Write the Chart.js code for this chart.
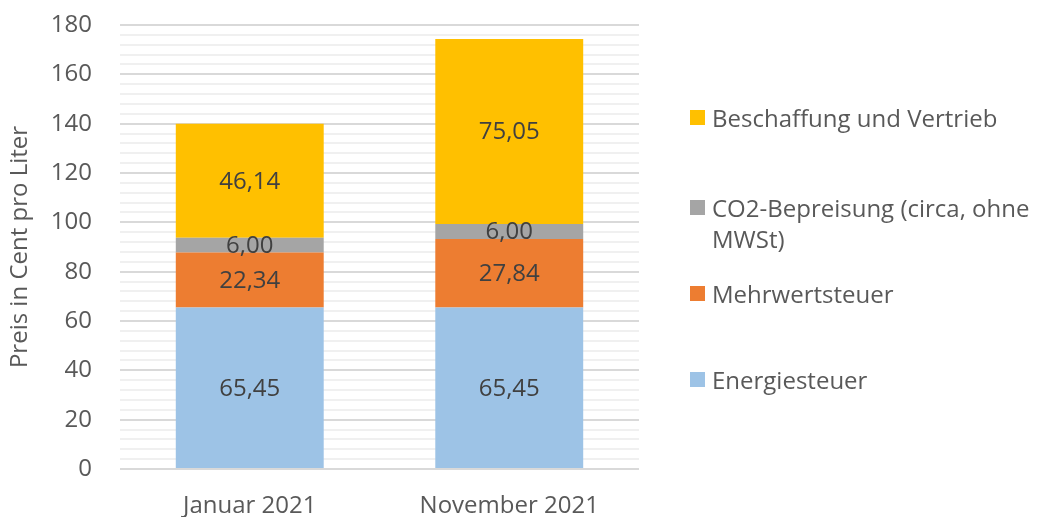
<!DOCTYPE html>
<html>
<head>
<meta charset="utf-8">
<script src="https://cdn.jsdelivr.net/npm/chart.js@4/dist/chart.umd.min.js"></script>
<style>
  html, body { margin: 0; padding: 0; background: #fff; }
  #wrap { position: relative; width: 1040px; height: 517px; font-family: "Open Sans", sans-serif; }
  #chart { position: absolute; left: 0; top: 0; }
  .leg { position: absolute; left: 690px; display: flex; align-items: flex-start; color: #595959; font-size: 24px; line-height: 31px; }
  .leg .sw { width: 15px; height: 15px; margin-top: 8px; margin-right: 7px; flex: none; }
  .leg .tx { width: 325px; }
</style>
</head>
<body>
<div id="wrap">
  <canvas id="chart" width="1040" height="517"></canvas>
  <div id="legend"></div>
</div>
<script>
// ---- data ----
const categories = ['Januar 2021', 'November 2021'];
const seriesNames = ['Energiesteuer', 'Mehrwertsteuer', 'CO2-Bepreisung (circa, ohne MWSt)', 'Beschaffung und Vertrieb'];
const energiesteuer = [65.45, 65.45];
const mehrwertsteuer = [22.34, 27.84];
const co2Bepreisung = [6.00, 6.00];
const beschaffung = [46.14, 75.05];
const yTickLabels = [0, 20, 40, 60, 80, 100, 120, 140, 160, 180];
const yTitle = 'Preis in Cent pro Liter';

// ---- styles ----
const colors = ['#9DC3E6', '#ED7D31', '#A5A5A5', '#FFC000'];
const legendTops = [364, 278, 192, 102]; // per series (bottom to top)
const FONT = '"Open Sans", sans-serif';
const FS = 24;

const seriesValues = [energiesteuer, mehrwertsteuer, co2Bepreisung, beschaffung];

const labelPlugin = {
  id: 'segLabels',
  afterDatasetsDraw(chart) {
    const ctx = chart.ctx;
    ctx.save();
    ctx.font = FS + 'px ' + FONT;
    ctx.fillStyle = '#404040';
    ctx.textAlign = 'center';
    ctx.textBaseline = 'middle';
    chart.data.datasets.forEach((ds, i) => {
      const meta = chart.getDatasetMeta(i);
      meta.data.forEach((bar, j) => {
        const c = bar.getCenterPoint();
        ctx.fillText(ds.data[j].toFixed(2).replace('.', ','), c.x, c.y + 1);
      });
    });
    ctx.restore();
  }
};

new Chart(document.getElementById('chart'), {
  type: 'bar',
  data: {
    labels: categories,
    datasets: seriesNames.map((n, i) => ({
      label: n,
      data: seriesValues[i],
      backgroundColor: colors[i],
      borderWidth: 0,
      categoryPercentage: 1,
      barPercentage: 0.57
    }))
  },
  options: {
    responsive: false,
    animation: false,
    layout: { padding: { left: 0, right: 401, top: 25, bottom: 0 } },
    plugins: { legend: { display: false }, tooltip: { enabled: false } },
    scales: {
      x: {
        stacked: true,
        grid: { display: false },
        border: { display: false },
        ticks: { color: '#595959', font: { family: FONT, size: FS }, padding: 15 },
        afterFit(s) { s.height = 48; s.paddingLeft = 0; s.paddingRight = 0; }
      },
      y: {
        stacked: true,
        min: 0, max: 180,
        border: { display: false },
        grid: {
          drawTicks: false,
          color: c => (c.tick && c.tick.value % 20 === 0) ? '#d9d9d9' : '#f0f0f0',
          lineWidth: 2
        },
        ticks: {
          stepSize: 4,
          autoSkip: false,
          color: '#595959',
          font: { family: FONT, size: FS },
          padding: 28,
          callback: v => yTickLabels.includes(v) ? String(v) : ''
        },
        title: {
          display: true, text: yTitle, color: '#595959',
          font: { family: FONT, size: FS }, padding: { top: 6, bottom: 0 }
        },
        afterFit(s) { s.width = 120; s.paddingTop = 0; s.paddingBottom = 0; }
      }
    }
  },
  plugins: [labelPlugin]
});

// legend (top to bottom = reversed series)
const leg = document.getElementById('legend');
for (let i = seriesNames.length - 1; i >= 0; i--) {
  const d = document.createElement('div');
  d.className = 'leg';
  d.style.top = legendTops[i] + 'px';
  const sw = document.createElement('div');
  sw.className = 'sw';
  sw.style.background = colors[i];
  const tx = document.createElement('div');
  tx.className = 'tx';
  tx.textContent = seriesNames[i];
  d.appendChild(sw); d.appendChild(tx);
  leg.appendChild(d);
}
</script>
</body>
</html>
